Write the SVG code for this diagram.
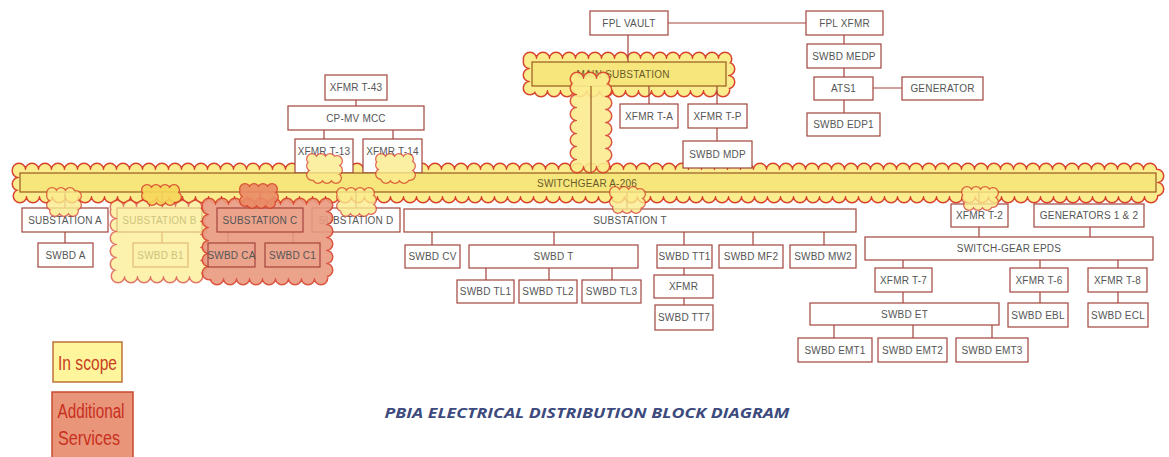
<svg xmlns="http://www.w3.org/2000/svg" xmlns:xlink="http://www.w3.org/1999/xlink" width="1169" height="457" viewBox="0 0 1169 457">
<style>
.box{fill:#fff;stroke:#a3443d;stroke-width:1.2}
.ybox{fill:#f6e67c;stroke:#9a5a22;stroke-width:1.2}
.tbox{fill:none;stroke:#a3443d;stroke-width:1.2}
.lbl{font-family:"Liberation Sans",Arial,sans-serif;font-size:10px;fill:#555;text-anchor:middle;dominant-baseline:central;letter-spacing:0.2px}
.ylbl{font-family:"Liberation Sans",Arial,sans-serif;font-size:10px;fill:#6b5a2a;text-anchor:middle;dominant-baseline:central;letter-spacing:0.2px}
.ln{stroke:#a3443d;stroke-width:1.2;fill:none}
.bl{stroke:#9a5a22;stroke-width:1.2;fill:none}
.o,.i{stroke-linecap:round}
.o{stroke:#d8432c}
.y .o,.y .i{fill:#fbec8e}.y .i{stroke:#fbec8e}
.yy .o,.yy .i{fill:#f7d75a}.yy .i{stroke:#f7d75a}
.r .o,.r .i{fill:#e99a80}.r .i{stroke:#e99a80}
.rr .o,.rr .i{fill:#ea8a65}.rr .i{stroke:#ea8a65}
.big .o{stroke-width:15;stroke-dasharray:0 13}
.big .i{stroke-width:12;stroke-dasharray:0 13}
.sm .o{stroke-width:12;stroke-dasharray:0 9}
.sm .i{stroke-width:9.5;stroke-dasharray:0 9}
.leg{font-family:"Liberation Sans",Arial,sans-serif;font-size:20px;text-anchor:middle}
</style>
<defs>
<path id="cBus" d="M19,170H1157V196H19Z"/>
<path id="cMain" d="M530,59H728V90H530Z"/>
<path id="cVert" d="M577,79H605V166H577Z"/>
<path id="cB" d="M117,207H200V276H117Z"/>
<path id="cC" d="M209,205H326V278H209Z"/>
<path id="sA" d="M52,193H76V211H52Z"/>
<path id="sB" d="M147,190H176V200H147Z"/>
<path id="sC" d="M245,189H273V203H245Z"/>
<path id="sD" d="M342,193H371V211H342Z"/>
<path id="sT" d="M615,192H640V208H615Z"/>
<path id="sT2" d="M967,192H993V205H967Z"/>
<path id="s13" d="M312,159H337V178H312Z"/>
<path id="s14" d="M381,159H410V178H381Z"/>
</defs>

<!-- background clouds -->
<g id="cloud-bus" class="y big"><use href="#cBus" class="o"/><use href="#cBus" class="i"/></g>
<g id="cloud-main" class="y big"><use href="#cMain" class="o"/><use href="#cMain" class="i"/></g>

<g id="connectors">
<path class="ln" d="M668,23H806M628,35V62M844,35V44M844,68V77M844,100V113M873,88H902M649,86V104M717,86V104M717,128V141"/>
<path class="ln" d="M356,100V106M324,130V139M393,130V139"/>
<path class="ln" d="M65,192V208M162,192V208M260,192V208M356,192V208M627,192V209M979,192V204"/>
<path class="ln" d="M65,232V243M162,232V243M228,232V243M293,232V243"/>
<path class="ln" d="M432,232V245M554,232V245M684,232V245M753,232V245M824,232V245M486,268V280M549,268V280M612,268V280M684,268V275M684,298V305"/>
<path class="ln" d="M979,227V237M1090,227V237M903,260V268M1040,260V268M1118,260V268M903,292V303M1040,292V303M1118,292V303M834,325V338M913,325V338M992,325V338"/>
</g>

<g id="n-fplvault"><rect class="box" x="590" y="11" width="78" height="24"/><text class="lbl" x="629" y="23">FPL VAULT</text></g>
<g id="n-fplxfmr"><rect class="box" x="806" y="11" width="77" height="24"/><text class="lbl" x="844.5" y="23">FPL XFMR</text></g>
<g id="n-medp"><rect class="box" x="807" y="44" width="74" height="24"/><text class="lbl" x="844" y="56">SWBD MEDP</text></g>
<g id="n-ats1"><rect class="box" x="814" y="77" width="59" height="23"/><text class="lbl" x="843.5" y="88.5">ATS1</text></g>
<g id="n-gen"><rect class="box" x="902" y="77" width="81" height="23"/><text class="lbl" x="942.5" y="88.5">GENERATOR</text></g>
<g id="n-edp1"><rect class="box" x="807" y="113" width="73" height="23"/><text class="lbl" x="843.5" y="124.5">SWBD EDP1</text></g>
<g id="n-main"><rect class="ybox" x="532" y="62" width="194" height="24"/><text class="ylbl" x="623" y="74">MAIN SUBSTATION</text></g>
<g id="n-xta"><rect class="box" x="620" y="104" width="58" height="24"/><text class="lbl" x="649" y="116">XFMR T-A</text></g>
<g id="n-xtp"><rect class="box" x="688" y="104" width="59" height="24"/><text class="lbl" x="717.5" y="116">XFMR T-P</text></g>
<g id="n-mdp"><rect class="box" x="683" y="141" width="69" height="27"/><text class="lbl" x="717.5" y="154">SWBD MDP</text></g>
<g id="n-xt43"><rect class="box" x="325" y="75" width="62" height="25"/><text class="lbl" x="356" y="87.5">XFMR T-43</text></g>
<g id="n-mcc"><rect class="box" x="288" y="106" width="136" height="24"/><text class="lbl" x="356" y="118">CP-MV MCC</text></g>
<g id="n-xt13"><rect class="box" x="295" y="139" width="58" height="34"/><text class="lbl" x="324" y="151">XFMR T-13</text></g>
<g id="n-xt14"><rect class="box" x="363" y="139" width="59" height="34"/><text class="lbl" x="392.5" y="151">XFMR T-14</text></g>

<g id="n-bus"><rect class="ybox" x="20" y="173" width="1136" height="19"/><text class="ylbl" x="587" y="183">SWITCHGEAR A-206</text></g>

<g id="n-subA"><rect class="box" x="22" y="208" width="86" height="24"/><text class="lbl" x="65" y="220">SUBSTATION A</text></g>
<g id="n-swbdA"><rect class="box" x="38" y="243" width="55" height="24"/><text class="lbl" x="65.5" y="255">SWBD A</text></g>
<g id="n-subB"><rect class="box" x="117" y="208" width="85" height="24"/><text class="lbl" x="159.5" y="220">SUBSTATION B</text></g>
<g id="n-swbdB1"><rect class="box" x="133" y="243" width="55" height="24"/><text class="lbl" x="160.5" y="255">SWBD B1</text></g>
<g id="cloud-B" class="y big" opacity="0.72"><use href="#cB" class="o"/><use href="#cB" class="i"/></g>
<g id="n-subD"><rect class="box" x="312" y="208" width="88" height="24"/><text class="lbl" x="356" y="220">SUBSTATION D</text></g>
<g id="cloud-C" class="r big" opacity="0.9"><use href="#cC" class="o"/><use href="#cC" class="i"/></g>
<g id="n-subC"><rect class="tbox" x="217" y="208" width="86" height="24"/><text class="lbl" x="260" y="220">SUBSTATION C</text></g>
<g id="n-swbdCA"><rect class="tbox" x="208" y="243" width="47" height="24"/><text class="lbl" x="231.5" y="255">SWBD CA</text></g>
<g id="n-swbdC1"><rect class="tbox" x="265" y="243" width="55" height="24"/><text class="lbl" x="292.5" y="255">SWBD C1</text></g>

<g id="n-subT"><rect class="box" x="404" y="209" width="452" height="23"/><text class="lbl" x="630" y="220.5">SUBSTATION T</text></g>
<g id="n-cv"><rect class="box" x="405" y="245" width="55" height="23"/><text class="lbl" x="432.5" y="256.5">SWBD CV</text></g>
<g id="n-swbdT"><rect class="box" x="469" y="245" width="169" height="23"/><text class="lbl" x="553.5" y="256.5">SWBD T</text></g>
<g id="n-tt1"><rect class="box" x="657" y="245" width="55" height="23"/><text class="lbl" x="684.5" y="256.5">SWBD TT1</text></g>
<g id="n-mf2"><rect class="box" x="719" y="245" width="64" height="23"/><text class="lbl" x="751" y="256.5">SWBD MF2</text></g>
<g id="n-mw2"><rect class="box" x="790" y="245" width="66" height="23"/><text class="lbl" x="823" y="256.5">SWBD MW2</text></g>
<g id="n-tl1"><rect class="box" x="457" y="280" width="57" height="23"/><text class="lbl" x="485.5" y="291.5">SWBD TL1</text></g>
<g id="n-tl2"><rect class="box" x="519" y="280" width="58" height="23"/><text class="lbl" x="548" y="291.5">SWBD TL2</text></g>
<g id="n-tl3"><rect class="box" x="582" y="280" width="59" height="23"/><text class="lbl" x="611.5" y="291.5">SWBD TL3</text></g>
<g id="n-xfmr"><rect class="box" x="654" y="275" width="59" height="23"/><text class="lbl" x="683.5" y="286.5">XFMR</text></g>
<g id="n-tt7"><rect class="box" x="655" y="305" width="58" height="25"/><text class="lbl" x="684" y="317.5">SWBD TT7</text></g>

<g id="n-xt2"><rect class="box" x="951" y="204" width="57" height="23"/><text class="lbl" x="979.5" y="215.5">XFMR T-2</text></g>
<g id="n-gens"><rect class="box" x="1034" y="204" width="110" height="23"/><text class="lbl" x="1089" y="215.5">GENERATORS 1 &amp; 2</text></g>
<g id="n-epds"><rect class="box" x="865" y="237" width="288" height="23"/><text class="lbl" x="1009" y="248.5">SWITCH-GEAR EPDS</text></g>
<g id="n-xt7"><rect class="box" x="875" y="268" width="57" height="24"/><text class="lbl" x="903.5" y="280">XFMR T-7</text></g>
<g id="n-xt6"><rect class="box" x="1010" y="268" width="58" height="24"/><text class="lbl" x="1039" y="280">XFMR T-6</text></g>
<g id="n-xt8"><rect class="box" x="1088" y="268" width="59" height="24"/><text class="lbl" x="1117.5" y="280">XFMR T-8</text></g>
<g id="n-et"><rect class="box" x="810" y="303" width="189" height="22"/><text class="lbl" x="904.5" y="314">SWBD ET</text></g>
<g id="n-ebl"><rect class="box" x="1008" y="303" width="60" height="24"/><text class="lbl" x="1038" y="315">SWBD EBL</text></g>
<g id="n-ecl"><rect class="box" x="1088" y="303" width="60" height="24"/><text class="lbl" x="1118" y="315">SWBD ECL</text></g>
<g id="n-emt1"><rect class="box" x="798" y="338" width="74" height="24"/><text class="lbl" x="835" y="350">SWBD EMT1</text></g>
<g id="n-emt2"><rect class="box" x="878" y="338" width="69" height="24"/><text class="lbl" x="912.5" y="350">SWBD EMT2</text></g>
<g id="n-emt3"><rect class="box" x="956" y="338" width="72" height="24"/><text class="lbl" x="992" y="350">SWBD EMT3</text></g>

<!-- overlay clouds -->
<g id="cloud-vert" class="y big" opacity="0.9"><use href="#cVert" class="o"/><use href="#cVert" class="i"/></g>
<path class="bl" d="M591,86V173"/>
<g id="cloud-sA" class="y sm" opacity="0.8"><use href="#sA" class="o"/><use href="#sA" class="i"/></g>
<g id="cloud-sB" class="yy sm" opacity="0.9"><use href="#sB" class="o"/><use href="#sB" class="i"/></g>
<g id="cloud-sC" class="rr sm" opacity="0.9"><use href="#sC" class="o"/><use href="#sC" class="i"/></g>
<g id="cloud-sD" class="y sm" opacity="0.8"><use href="#sD" class="o"/><use href="#sD" class="i"/></g>
<g id="cloud-sT" class="y sm" opacity="0.8"><use href="#sT" class="o"/><use href="#sT" class="i"/></g>
<g id="cloud-sT2" class="y sm" opacity="0.8"><use href="#sT2" class="o"/><use href="#sT2" class="i"/></g>
<g id="cloud-s13" class="y sm" opacity="0.8"><use href="#s13" class="o"/><use href="#s13" class="i"/></g>
<g id="cloud-s14" class="y sm" opacity="0.8"><use href="#s14" class="o"/><use href="#s14" class="i"/></g>

<g id="legend-inscope"><rect x="53" y="342" width="69" height="40" fill="#fff59d" stroke="#c0703a" stroke-width="1.5"/><text class="leg" x="87.5" y="370" fill="#c8401e" textLength="59" lengthAdjust="spacingAndGlyphs">In scope</text></g>
<g id="legend-additional"><rect x="52" y="392" width="81" height="68" fill="#e8957a" stroke="#c84a30" stroke-width="1.5"/><text class="leg" x="91" y="418" fill="#c8301e" textLength="67" lengthAdjust="spacingAndGlyphs">Additional</text><text class="leg" x="89" y="445" fill="#c8301e" textLength="62" lengthAdjust="spacingAndGlyphs">Services</text></g>
<text id="title" x="587" y="418" font-family="Open Sans,sans-serif" font-size="15" font-weight="bold" font-style="italic" fill="#3c4a7d" text-anchor="middle" textLength="405" lengthAdjust="spacingAndGlyphs">PBIA ELECTRICAL DISTRIBUTION BLOCK DIAGRAM</text>
</svg>
